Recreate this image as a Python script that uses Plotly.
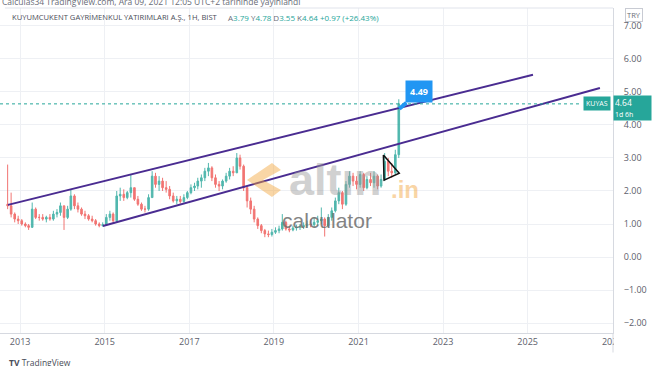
import plotly.graph_objects as go
import pandas as pd

# ---------------- data ----------------
first_open = 1.60
highs = [2.80, 1.95, 1.35, 1.25, 1.15, 1.05, 1.00, 1.65, 1.50, 1.30,
         1.30, 1.25, 1.30, 1.40, 1.45, 1.65, 1.55, 1.55, 2.05, 1.90,
         1.65, 1.50, 1.40, 1.30, 1.25, 1.15, 1.05, 1.05, 1.30, 1.40,
         1.35, 2.00, 2.10, 2.05, 2.00, 2.50, 2.10, 1.85, 1.65, 1.55,
         1.90, 2.60, 2.55, 2.45, 2.40, 2.30, 2.15, 1.95, 1.85, 1.85,
         1.90, 2.00, 2.20, 2.25, 2.40, 2.50, 2.70, 2.85, 2.75, 2.50,
         2.30, 2.35, 2.55, 2.70, 2.75, 3.15, 3.10, 2.80, 2.15, 1.80,
         1.55, 1.20, 1.00, 0.85, 0.80, 0.85, 0.90, 0.95, 1.30, 1.10,
         0.95, 0.95, 0.98, 1.00, 1.05, 1.10, 1.15, 1.20, 1.25, 1.50,
         1.20, 1.30, 1.50, 1.80, 2.10, 2.00, 2.30, 2.60, 2.55, 2.45,
         2.60, 2.55, 2.45, 2.55, 2.60, 2.50, 2.50, 3.15, 3.00, 2.85,
         3.25, 4.78]
lows = [1.45, 1.20, 1.05, 1.00, 0.95, 0.90, 0.82, 0.88, 1.15, 1.10,
        1.10, 1.05, 1.10, 1.10, 1.20, 1.25, 0.82, 1.15, 1.40, 1.45,
        1.35, 1.25, 1.15, 1.10, 1.05, 0.95, 0.90, 0.92, 0.98, 1.10,
        1.00, 1.05, 1.70, 1.70, 1.75, 1.80, 1.70, 1.55, 1.40, 1.35,
        1.40, 1.80, 2.10, 2.00, 2.00, 1.95, 1.75, 1.65, 1.60, 1.62,
        1.65, 1.75, 1.90, 2.00, 2.05, 2.10, 2.30, 2.45, 2.30, 2.10,
        2.00, 2.05, 2.25, 2.35, 2.45, 2.55, 2.65, 2.00, 1.50, 1.30,
        1.05, 0.85, 0.72, 0.60, 0.60, 0.62, 0.70, 0.72, 0.80, 0.80,
        0.75, 0.78, 0.80, 0.82, 0.85, 0.88, 0.90, 0.90, 0.95, 1.00,
        0.62, 0.90, 1.10, 1.35, 1.60, 1.45, 1.55, 2.10, 2.15, 2.05,
        2.10, 2.00, 2.05, 2.15, 2.10, 2.05, 2.10, 2.30, 2.45, 2.40,
        2.50, 3.00]
closes = [1.55, 1.30, 1.15, 1.10, 1.00, 0.95, 0.90, 1.45, 1.20, 1.20,
          1.15, 1.20, 1.15, 1.30, 1.35, 1.55, 1.20, 1.45, 1.85, 1.55,
          1.45, 1.30, 1.25, 1.15, 1.10, 1.00, 0.95, 0.98, 1.20, 1.30,
          1.10, 1.85, 1.90, 1.80, 1.95, 2.10, 1.75, 1.60, 1.45, 1.45,
          1.80, 2.45, 2.20, 2.30, 2.10, 2.05, 1.85, 1.70, 1.75, 1.68,
          1.80, 1.95, 2.10, 2.15, 2.30, 2.40, 2.60, 2.70, 2.40, 2.20,
          2.15, 2.30, 2.45, 2.60, 2.55, 3.00, 2.75, 2.10, 1.70, 1.45,
          1.15, 0.95, 0.80, 0.70, 0.68, 0.75, 0.80, 0.85, 1.05, 0.85,
          0.82, 0.88, 0.90, 0.92, 0.95, 1.00, 0.98, 1.05, 1.10, 1.15,
          0.95, 1.20, 1.40, 1.70, 1.95, 1.60, 2.20, 2.45, 2.30, 2.20,
          2.50, 2.10, 2.35, 2.25, 2.45, 2.15, 2.35, 2.90, 2.60, 2.55,
          3.10, 4.64]
opens = [first_open] + closes[:-1]
dates = pd.date_range("2012-09-01", periods=len(closes), freq="MS") + pd.Timedelta(days=14)

# last (hourly) bar shown in the legend header
hdr_open, hdr_high, hdr_low, hdr_close = 3.79, 4.78, 3.55, 4.64
hdr_change, hdr_pct = 0.97, 26.43

upper_channel_dates = ["2012-09-18", "2025-02-16"]
upper_channel_prices = [1.58, 5.52]
lower_channel_dates = ["2014-12-17", "2026-09-17"]
lower_channel_prices = [0.94, 5.12]
triangle_dates = ["2021-08-04", "2021-12-19", "2021-08-10", "2021-08-04"]
triangle_prices = [3.09, 2.54, 2.33, 3.09]
callout_date = "2021-12-20"
callout_price = 4.49

year_ticks = [str(y) for y in range(2013, 2029, 2)]
price_ticks = [-2, -1, 0, 1, 2, 3, 4, 5, 6, 7]

UP = "#26a69a"
DOWN = "#ef5350"
CH = "#4a2c91"
AXT = "#5d606b"
GRID = "#eef0f4"
FONT = "Open Sans"

fig = go.Figure()
fig.add_trace(go.Candlestick(
    x=dates, open=opens, high=highs, low=lows, close=closes,
    increasing=dict(line=dict(color=UP, width=1), fillcolor=UP),
    decreasing=dict(line=dict(color=DOWN, width=1), fillcolor=DOWN),
    whiskerwidth=0, hoverinfo="skip", opacity=0.8))
fig.add_trace(go.Scatter(x=upper_channel_dates, y=upper_channel_prices, mode="lines",
                         line=dict(color=CH, width=2), hoverinfo="skip"))
fig.add_trace(go.Scatter(x=lower_channel_dates, y=lower_channel_prices, mode="lines",
                         line=dict(color=CH, width=2), hoverinfo="skip"))
fig.add_trace(go.Scatter(x=triangle_dates, y=triangle_prices, mode="lines",
                         line=dict(color="#111111", width=1.5), hoverinfo="skip"))

last = closes[-1]
shapes = [
    dict(type="line", xref="paper", yref="y", x0=0, x1=0.946, y0=last, y1=last,
         line=dict(color=UP, width=1, dash="dot")),
    dict(type="line", xref="paper", yref="paper", x0=0.008, x1=1, y0=1, y1=1,
         line=dict(color="#e0e3eb", width=1)),
    # watermark logo
    dict(type="path", xref="paper", yref="paper",
         path="M 0.4437 0.5231 L 0.4029 0.4708 L 0.4437 0.4185 L 0.4584 0.44 L 0.4290 0.4708 L 0.4584 0.5015 Z",
         fillcolor="#f2a33a", opacity=0.45, line=dict(width=0)),
    # hide right part of last year label under price scale
    dict(type="rect", xref="paper", yref="paper", x0=1.0015, x1=1.07, y0=-0.075, y1=-0.002,
         fillcolor="white", line=dict(width=0), layer="above"),
    dict(type="line", xref="paper", yref="paper", x0=1, x1=1, y0=-0.06, y1=0,
         line=dict(color="#d6d9e0", width=1)),
]

G = "<span style='color:#6a6d78'>{}</span>"
lbl = (f"{G.format('A')}{hdr_open:.2f} {G.format('Y')}{hdr_high:.2f} "
       f"{G.format('D')}{hdr_low:.2f} {G.format('K')}{hdr_close:.2f} "
       f"+{hdr_change:.2f} (+{hdr_pct:.2f}%)")

annotations = [
    dict(xref="paper", yref="paper", x=0.0, y=1.021, xanchor="left", yanchor="middle",
         text="Calculas34 TradingView.com, Ara 09, 2021 12:05 UTC+2 tarihinde yayınlandı",
         showarrow=False, font=dict(family=FONT, size=8.5, color="#6a6d78")),
    dict(xref="paper", yref="paper", x=0.016, y=0.972, xanchor="left", yanchor="middle",
         text="KUYUMCUKENT GAYRİMENKUL YATIRIMLARI A.Ş., 1H, BIST",
         showarrow=False, font=dict(family=FONT, size=7.6, color="#4a4d58")),
    dict(xref="paper", yref="paper", x=0.368, y=0.972, xanchor="left", yanchor="middle",
         text=lbl, showarrow=False, font=dict(family=FONT, size=8, color=UP)),
    dict(xref="paper", yref="paper", x=1.034, y=0.978, xanchor="center", yanchor="middle",
         text="TRY", showarrow=False, bgcolor="white", bordercolor="#c8cbd3", borderwidth=1,
         borderpad=1, font=dict(family=FONT, size=7.5, color="#6a6d78")),
    dict(xref="paper", yref="y", x=0.9967, y=last, xanchor="right", yanchor="middle",
         text="KUYAS", showarrow=False, bgcolor=UP, borderpad=2,
         font=dict(family=FONT, size=7, color="white")),
    dict(xref="paper", yref="y", x=1.0, y=last, xanchor="left", yanchor="middle", yshift=-4,
         text=f"{last:.2f}<br><span style='font-size:7px'>1d 6h</span>", showarrow=False,
         bgcolor=UP, borderpad=1, width=35, align="left",
         font=dict(family=FONT, size=8.5, color="white")),
    dict(xref="x", yref="y", x=callout_date, y=callout_price, ax=20, ay=-17,
         text="<b>4.49</b>", showarrow=True, arrowhead=0, arrowwidth=4, arrowcolor="#2196f3",
         bgcolor="#2196f3", borderpad=4, font=dict(family=FONT, size=9, color="white")),
    # watermark
    dict(xref="paper", yref="paper", x=0.548, y=0.471, xanchor="center", yanchor="middle",
         text="<b>altın</b>", showarrow=False, opacity=0.45,
         font=dict(family="Liberation Sans", size=45, color="#9a9a9a")),
    dict(xref="paper", yref="paper", x=0.66, y=0.443, xanchor="center", yanchor="middle",
         text="<b>.in</b>", showarrow=False, opacity=0.45,
         font=dict(family="Liberation Sans", size=24, color="#f2a33a")),
    dict(xref="paper", yref="paper", x=0.534, y=0.345, xanchor="center", yanchor="middle",
         text="calculator", showarrow=False, opacity=0.85,
         font=dict(family="Liberation Sans", size=21, color="#6e6e6e")),
    dict(xref="paper", yref="paper", x=0.012, y=-0.09, xanchor="left", yanchor="middle",
         text="<b>TV</b> TradingView", showarrow=False,
         font=dict(family=FONT, size=8.5, color="#4a4d58")),
]

fig.update_layout(
    width=654, height=366,
    margin=dict(l=0, r=41, t=8, b=33),
    paper_bgcolor="white", plot_bgcolor="white",
    showlegend=False,
    shapes=shapes, annotations=annotations,
    xaxis=dict(type="date", range=["2012-07-11", "2027-01-08"],
               tickvals=[f"{y}-01-01" for y in year_ticks], ticktext=year_ticks,
               showgrid=True, gridcolor=GRID, gridwidth=1,
               showline=True, linecolor="#d6d9e0", ticks="",
               tickfont=dict(family=FONT, size=9, color=AXT),
               rangeslider=dict(visible=False), fixedrange=True),
    yaxis=dict(side="right", range=[-2.303, 7.545], tickvals=price_ticks, tickformat=".2f",
               showgrid=True, gridcolor=GRID, gridwidth=1, zeroline=False,
               showline=True, linecolor="#d6d9e0", ticks="", ticklabelstandoff=8,
               tickfont=dict(family=FONT, size=9, color=AXT), fixedrange=True),
)

fig.write_html("out.html", config={"displayModeBar": False})
